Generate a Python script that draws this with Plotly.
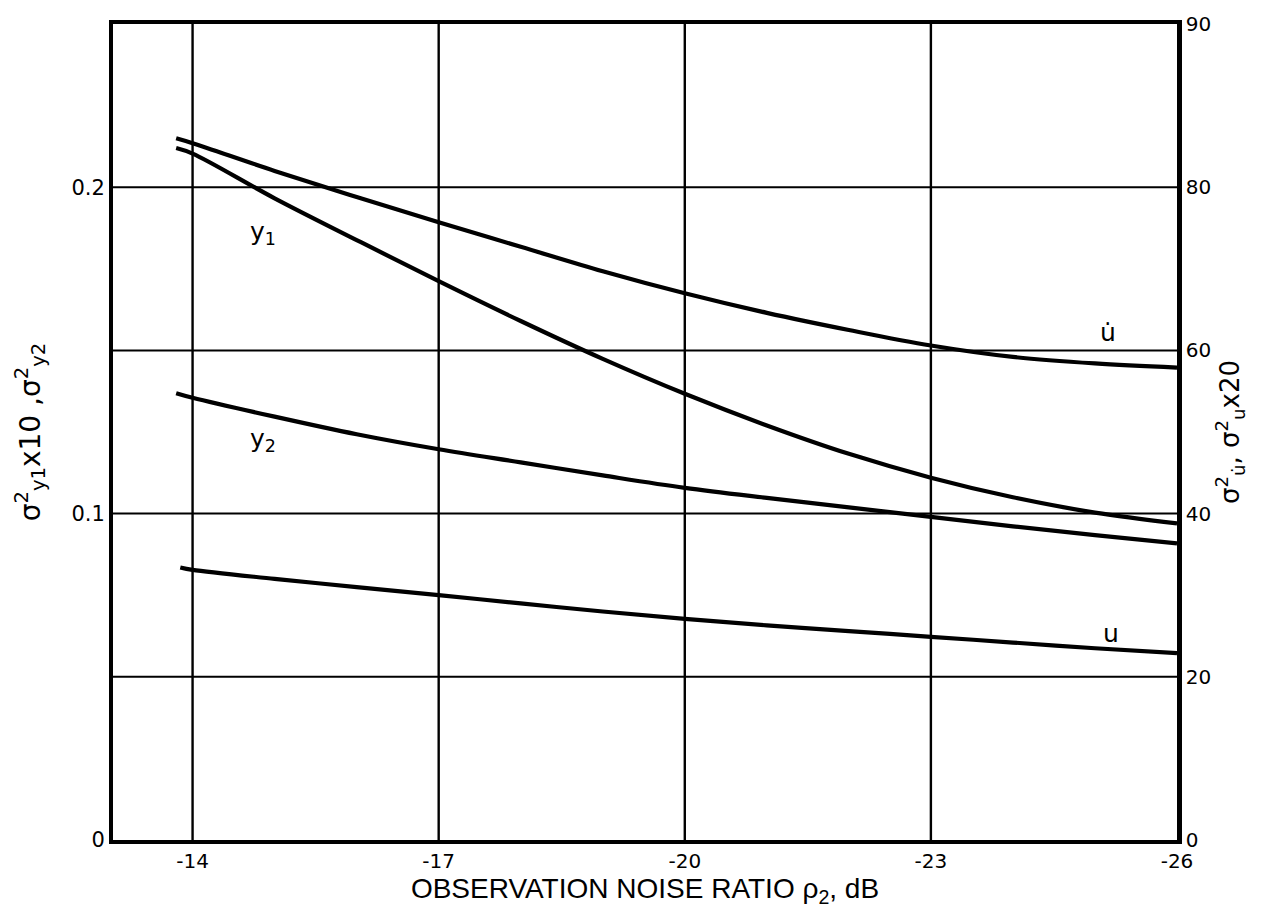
import plotly.graph_objects as go

# x values: observation noise ratio rho2 (dB)
x_pts = [-13.8, -14, -15, -16, -17, -18, -19, -20, -21, -22, -23, -24, -25, -26]

# left axis series (sigma^2_y1 x10, sigma^2_y2)
y1_vals = [0.2120, 0.2103, 0.1966, 0.1838, 0.1712, 0.1590, 0.1474, 0.1367,
           0.1270, 0.1183, 0.1110, 0.1050, 0.1003, 0.0970]
y2_vals = [0.1369, 0.1355, 0.1297, 0.1243, 0.1197, 0.1157, 0.1117, 0.1079,
           0.1048, 0.1019, 0.0990, 0.0961, 0.0934, 0.0909]

# right axis series (sigma^2_udot, sigma^2_u x20)
udot_vals = [86.0, 85.4, 82.0, 78.8, 75.7, 72.7, 69.7, 67.0,
             64.6, 62.5, 60.6, 59.2, 58.4, 57.9]
u_x = [-13.85, -14, -15, -16, -17, -18, -19, -20, -21, -22, -23, -24, -25, -26]
u_vals = [33.4, 33.1, 32.0, 31.0, 30.0, 29.0, 28.0, 27.1,
          26.3, 25.6, 24.9, 24.2, 23.5, 22.9]

x_ticks = [-14, -17, -20, -23, -26]
x_ticktext = ["-14", "-17", "-20", "-23", "-26"]
yl_ticks = [0, 0.1, 0.2]
yl_ticktext = ["0", "0.1", "0.2"]
yr_ticks = [0, 20, 40, 60, 80, 100]
yr_ticktext = ["0", "20", "40", "60", "80", "90"]
grid_y = [0.05, 0.1, 0.15, 0.2]
grid_x = [-14, -17, -20, -23]

curve_labels = [
    ("y<sub>1</sub>", -14.86, 0.186),
    ("y<sub>2</sub>", -14.86, 0.1227),
    ("u\u0307", -25.16, 0.1555),
    ("u", -25.2, 0.0633),
]

LW = 4.2
fig = go.Figure()
fig.add_trace(go.Scatter(x=x_pts, y=y1_vals, mode="lines", line=dict(color="black", width=LW, shape="spline"),
                         showlegend=False, name="y1"))
fig.add_trace(go.Scatter(x=x_pts, y=y2_vals, mode="lines", line=dict(color="black", width=LW, shape="spline"),
                         showlegend=False, name="y2"))
fig.add_trace(go.Scatter(x=x_pts, y=udot_vals, mode="lines", line=dict(color="black", width=LW, shape="spline"),
                         showlegend=False, name="udot", yaxis="y2"))
fig.add_trace(go.Scatter(x=u_x, y=u_vals, mode="lines", line=dict(color="black", width=LW, shape="spline"),
                         showlegend=False, name="u", yaxis="y2"))

for gy in grid_y:
    fig.add_shape(type="line", xref="paper", x0=0, x1=1, yref="y", y0=gy, y1=gy,
                  line=dict(color="black", width=2), layer="below")
for gx in grid_x:
    fig.add_shape(type="line", yref="paper", y0=0, y1=1, xref="x", x0=gx, x1=gx,
                  line=dict(color="black", width=2.4), layer="below")

for txt, lx, ly in curve_labels:
    fig.add_annotation(x=lx, y=ly, xref="x", yref="y", text=txt, showarrow=False,
                       font=dict(family="DejaVu Sans", size=25, color="black"))

num_font = dict(family="DejaVu Sans", size=20, color="black")
fig.update_layout(
    width=1269, height=917,
    margin=dict(l=113, r=92, t=19, b=77),
    paper_bgcolor="white", plot_bgcolor="white",
    xaxis=dict(range=[-13.03, -26], tickvals=x_ticks, ticktext=x_ticktext,
               showgrid=False, zeroline=False, showline=True, linecolor="black",
               linewidth=4, mirror=True, ticks="", tickfont=num_font,
               title=dict(text="OBSERVATION NOISE RATIO \u03c1<sub>2</sub>, dB",
                          font=dict(family="Liberation Sans", size=28, color="black"),
                          standoff=4)),
    yaxis=dict(range=[0, 0.25], tickvals=yl_ticks, ticktext=yl_ticktext,
               showgrid=False, zeroline=False, showline=True, linecolor="black",
               linewidth=4, ticks="", tickfont=dict(family="DejaVu Sans", size=21, color="black"),
               title=dict(text="\u03c3<sup>2</sup><sub>y1</sub>x10 ,\u03c3<sup>2</sup><sub>y2</sub>",
                          font=dict(family="DejaVu Sans", size=28, color="black"), standoff=24)),
    yaxis2=dict(range=[0, 100], tickvals=yr_ticks, ticktext=yr_ticktext, overlaying="y", side="right",
                showgrid=False, zeroline=False, showline=True, linecolor="black",
                linewidth=4.5, ticks="", tickfont=num_font,
                title=dict(text="\u03c3<sup>2</sup><sub>u\u0307</sub>, \u03c3<sup>2</sup><sub>u</sub>x20",
                           font=dict(family="DejaVu Sans", size=26, color="black"), standoff=8)),
)

fig.write_html("out.html")
